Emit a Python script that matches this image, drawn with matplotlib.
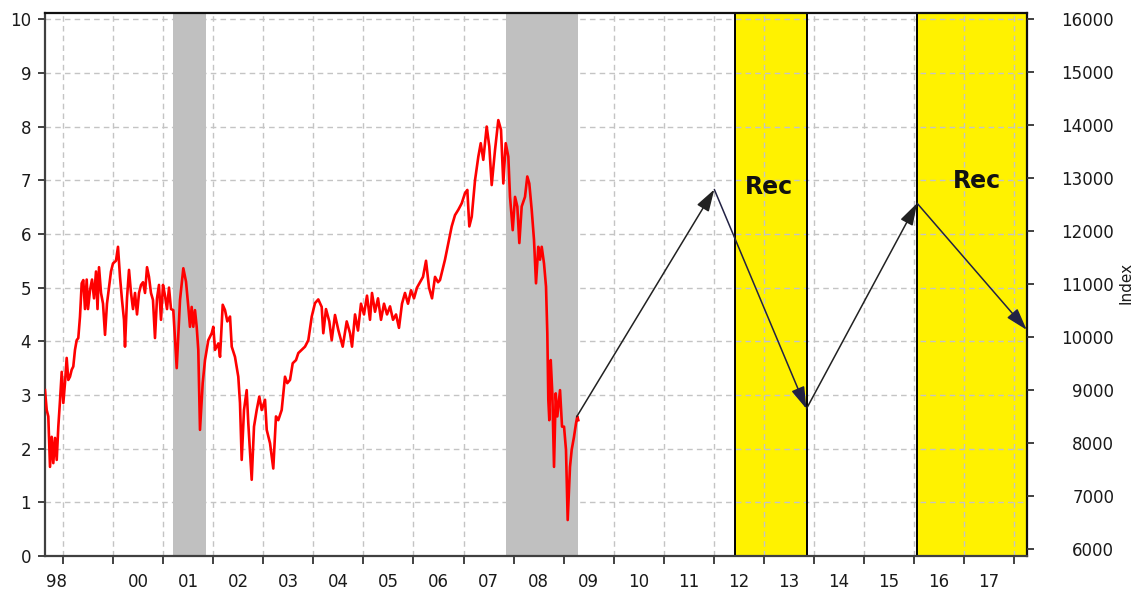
import matplotlib
matplotlib.use('Agg')
import matplotlib.pyplot as plt

# ---------------- data ----------------
red_years = [
    1998.640, 1998.674, 1998.706, 1998.740, 1998.774, 1998.806, 1998.840, 1998.874, 1998.906, 1998.940,
    1998.974, 1999.006, 1999.039, 1999.073, 1999.105, 1999.139, 1999.173, 1999.205, 1999.239, 1999.273,
    1999.305, 1999.339, 1999.373, 1999.405, 1999.439, 1999.473, 1999.499, 1999.539, 1999.579, 1999.619,
    1999.659, 1999.689, 1999.719, 1999.759, 1999.799, 1999.839, 1999.878, 1999.918, 1999.958, 1999.998,
    2000.058, 2000.098, 2000.138, 2000.178, 2000.218, 2000.238, 2000.278, 2000.318, 2000.358, 2000.398,
    2000.438, 2000.478, 2000.518, 2000.558, 2000.598, 2000.638, 2000.678, 2000.717, 2000.757, 2000.797,
    2000.837, 2000.877, 2000.917, 2000.957, 2000.997, 2001.037, 2001.077, 2001.117, 2001.157, 2001.203,
    2001.271, 2001.337, 2001.403, 2001.457, 2001.503, 2001.536, 2001.570, 2001.602, 2001.636, 2001.670,
    2001.702, 2001.736, 2001.790, 2001.836, 2001.902, 2001.970, 2002.002, 2002.036, 2002.102, 2002.136,
    2002.190, 2002.236, 2002.282, 2002.336, 2002.370, 2002.435, 2002.501, 2002.535, 2002.569, 2002.615,
    2002.669, 2002.701, 2002.769, 2002.815, 2002.869, 2002.921, 2002.969, 2003.035, 2003.069, 2003.135,
    2003.200, 2003.254, 2003.300, 2003.368, 2003.434, 2003.480, 2003.534, 2003.588, 2003.654, 2003.700,
    2003.768, 2003.834, 2003.900, 2003.968, 2004.033, 2004.099, 2004.167, 2004.199, 2004.253, 2004.319,
    2004.367, 2004.433, 2004.499, 2004.587, 2004.667, 2004.733, 2004.773, 2004.833, 2004.892, 2004.952,
    2005.012, 2005.072, 2005.132, 2005.172, 2005.232, 2005.292, 2005.352, 2005.412, 2005.472, 2005.532,
    2005.592, 2005.652, 2005.711, 2005.771, 2005.831, 2005.891, 2005.951, 2006.011, 2006.071, 2006.131,
    2006.191, 2006.251, 2006.311, 2006.371, 2006.431, 2006.491, 2006.530, 2006.564, 2006.630, 2006.696,
    2006.764, 2006.830, 2006.896, 2006.964, 2007.030, 2007.076, 2007.116, 2007.164, 2007.230, 2007.296,
    2007.344, 2007.395, 2007.463, 2007.515, 2007.563, 2007.629, 2007.695, 2007.749, 2007.795, 2007.843,
    2007.895, 2007.929, 2007.983, 2008.029, 2008.075, 2008.115, 2008.162, 2008.228, 2008.274, 2008.314,
    2008.362, 2008.408, 2008.448, 2008.494, 2008.528, 2008.562, 2008.608, 2008.648, 2008.674, 2008.694,
    2008.714, 2008.742, 2008.774, 2008.808, 2008.842, 2008.874, 2008.928, 2008.968, 2009.008, 2009.047,
    2009.081, 2009.127, 2009.161, 2009.207, 2009.247, 2009.273, 2009.293,
]
red_values = [
    3.09, 2.72, 2.60, 1.66, 2.22, 1.73, 2.20, 1.79, 2.41, 2.90,
    3.43, 2.85, 3.22, 3.69, 3.28, 3.34, 3.47, 3.53, 3.84, 4.02,
    4.06, 4.46, 5.08, 5.14, 4.60, 5.15, 4.60, 4.95, 5.15, 4.80,
    5.30, 4.60, 5.38, 4.90, 4.70, 4.12, 4.70, 5.00, 5.30, 5.45,
    5.50, 5.76, 5.20, 4.77, 4.40, 3.90, 4.80, 5.33, 4.90, 4.60,
    4.90, 4.50, 4.90, 5.05, 5.10, 4.90, 5.38, 5.20, 4.90, 4.77,
    4.06, 4.80, 5.05, 4.40, 5.05, 4.85, 4.60, 5.00, 4.60, 4.58,
    3.50, 4.77, 5.36, 5.11, 4.64, 4.27, 4.64, 4.27, 4.58, 4.27,
    3.84, 2.35, 3.22, 3.65, 4.02, 4.15, 4.27, 3.84, 3.96, 3.71,
    4.68, 4.58, 4.37, 4.46, 3.90, 3.71, 3.34, 2.85, 1.79, 2.72,
    3.09, 2.47, 1.42, 2.41, 2.72, 2.97, 2.72, 2.91, 2.35, 2.10,
    1.63, 2.60, 2.53, 2.72, 3.34, 3.22, 3.28, 3.59, 3.65, 3.78,
    3.84, 3.90, 4.02, 4.46, 4.71, 4.78, 4.64, 4.15, 4.60, 4.37,
    4.02, 4.49, 4.21, 3.90, 4.37, 4.15, 3.90, 4.50, 4.20, 4.70,
    4.50, 4.85, 4.40, 4.90, 4.55, 4.80, 4.40, 4.70, 4.50, 4.65,
    4.40, 4.50, 4.25, 4.70, 4.90, 4.70, 4.95, 4.80, 5.00, 5.10,
    5.20, 5.50, 5.00, 4.80, 5.20, 5.10, 5.14, 5.27, 5.52, 5.83,
    6.14, 6.35, 6.45, 6.57, 6.76, 6.82, 6.14, 6.32, 7.00, 7.44,
    7.69, 7.38, 8.00, 7.63, 6.91, 7.56, 8.12, 7.94, 6.94, 7.69,
    7.44, 6.69, 6.07, 6.69, 6.51, 5.83, 6.51, 6.69, 7.07, 6.94,
    6.45, 5.89, 5.08, 5.76, 5.52, 5.76, 5.45, 5.02, 4.15, 2.91,
    2.53, 3.65, 3.03, 1.66, 3.03, 2.60, 3.09, 2.41, 2.41, 1.98,
    0.67, 1.66, 1.98, 2.22, 2.47, 2.60, 2.53,
]

gray_bands = [(2001.20, 2001.86), (2007.84, 2009.29)]
yellow_bands = [(2012.43, 2013.86), (2016.05, 2018.25)]

arrow_years = [2009.26, 2012.01, 2013.85, 2016.06, 2018.25]
arrow_index = [8500, 12790, 8650, 12530, 10140]

year_ticks = list(range(1999, 2019))
label_years = [1998.87] + [y + 0.5 for y in range(2000, 2018)]
label_texts = ['98'] + ['%02d' % (y % 100) for y in range(2000, 2018)]

left_ticks = list(range(0, 11))
right_ticks = list(range(6000, 16001, 1000))

# ---------------- figure ----------------
W, H = 1137, 589
fig = plt.figure(figsize=(W / 100, H / 100), dpi=100)
ax = fig.add_axes([45 / W, 1 - 556 / H, (1026.7 - 45) / W, (556 - 13.3) / H])
ax.set_xlim(1998.64, 2018.25)
ax.set_ylim(0, 10.11)
ax.set_axisbelow(True)

tick_color = '#1a1a1a'
font = 'DejaVu Sans'

for a, b in yellow_bands:
    ax.axvspan(a, b, facecolor='#fff200', edgecolor='none', zorder=0.2)
    ax.axvline(a, color='black', lw=1.4, zorder=1.1)
    ax.axvline(b, color='black', lw=1.4, zorder=1.1)
for a, b in gray_bands:
    ax.axvspan(a, b, facecolor='#c0c0c0', edgecolor='none', zorder=1)

ax.plot(red_years, red_values, color='#ff0000', lw=1.9, zorder=3)

ax.set_xticks(year_ticks)
ax.set_xticklabels([])
ax.set_xticks(label_years, minor=True)
ax.set_xticklabels(label_texts, minor=True, fontsize=12, family=font, color=tick_color)
ax.tick_params(axis='x', which='major', direction='out', length=6, width=1.3, color='#333333')
ax.tick_params(axis='x', which='minor', length=0, pad=12)

ax.set_yticks(left_ticks)
ax.set_yticklabels([str(v) for v in left_ticks], fontsize=12, family=font, color=tick_color)
ax.tick_params(axis='y', direction='out', length=5, width=1.3, color='#333333', pad=5)

ax.grid(True, which='major', color='#c4c4c4', linestyle=(0, (4, 3)), linewidth=1.0)
ax.grid(False, which='minor')

for s in ['left', 'bottom']:
    ax.spines[s].set_color('#404040')
    ax.spines[s].set_linewidth(1.6)
ax.spines['top'].set_color('#101010')
ax.spines['top'].set_linewidth(1.6)
ax.spines['right'].set_color('#101010')
ax.spines['right'].set_linewidth(1.6)

ax.text(2013.10, 6.88, 'Rec', fontsize=17, fontweight='bold', family=font,
        ha='center', va='center', color='#111111', zorder=5)
ax.text(2017.25, 6.99, 'Rec', fontsize=17, fontweight='bold', family=font,
        ha='center', va='center', color='#111111', zorder=5)

ax2 = ax.twinx()
ax2.set_ylim(5874, 16113)
ax2.set_yticks(right_ticks)
ax2.set_yticklabels([str(v) for v in right_ticks], fontsize=12, family=font, color=tick_color)
ax2.tick_params(axis='y', direction='out', length=5, width=1.3, color='#333333', pad=58)
for lab in ax2.get_yticklabels():
    lab.set_horizontalalignment('right')
for s in ax2.spines.values():
    s.set_visible(False)

fig.text(1126 / W, 1 - 283 / H, 'Index', rotation=90, ha='center', va='center',
         fontsize=11, family=font, color=tick_color)

arrow_colors = ['#222222', '#222244', '#222222', '#222244']
for i in range(len(arrow_years) - 1):
    ax2.annotate('', xy=(arrow_years[i + 1], arrow_index[i + 1]),
                 xytext=(arrow_years[i], arrow_index[i]),
                 arrowprops=dict(arrowstyle='-|>,head_length=0.9,head_width=0.28',
                                 color=arrow_colors[i], lw=1.1, mutation_scale=15,
                                 shrinkA=0, shrinkB=0),
                 zorder=6)

fig.savefig('out.png', dpi=100)
